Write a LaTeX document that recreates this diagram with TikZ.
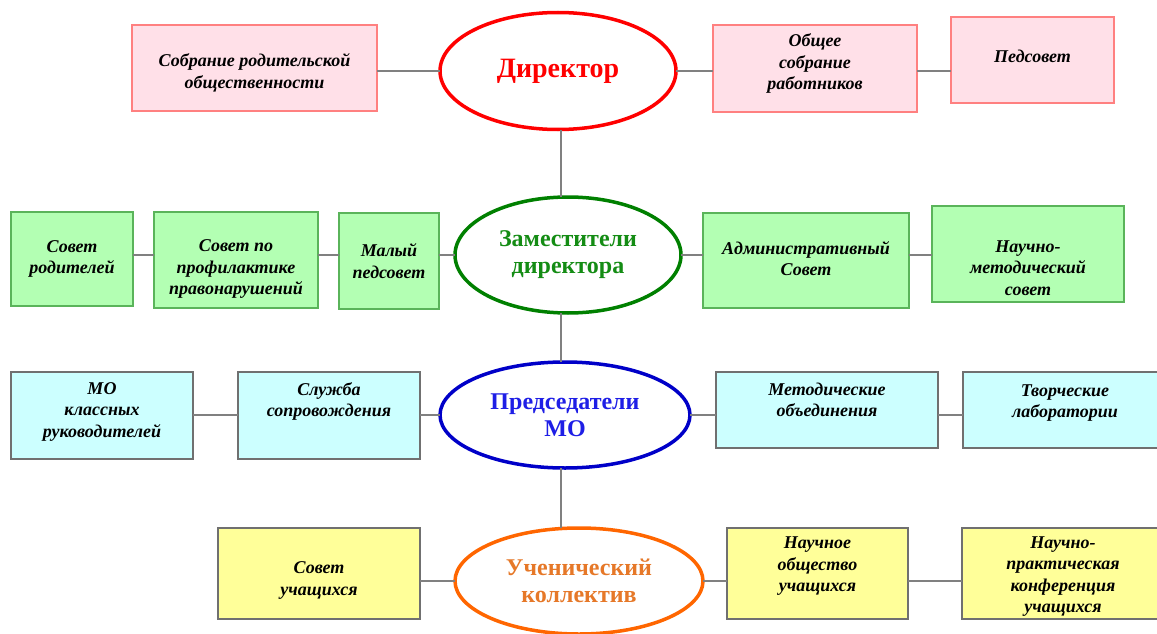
\documentclass[tikz,border=0pt]{standalone}
\usepackage{fontspec}
\setmainfont{Liberation Serif}
\usetikzlibrary{shapes.geometric}

\definecolor{pinkfill}{RGB}{255,224,232}
\definecolor{pinkline}{RGB}{255,128,128}
\definecolor{greenfill}{RGB}{179,255,179}
\definecolor{greenline}{RGB}{90,180,90}
\definecolor{cyanfill}{RGB}{204,255,255}
\definecolor{yellowfill}{RGB}{255,255,153}
\definecolor{greyline}{RGB}{112,112,112}
\definecolor{linkgrey}{RGB}{128,128,128}
\definecolor{dirred}{RGB}{255,0,0}
\definecolor{zamgreen}{RGB}{0,128,0}
\definecolor{zamtext}{RGB}{20,140,20}
\definecolor{predblue}{RGB}{0,0,200}
\definecolor{predtext}{RGB}{30,30,230}
\definecolor{uchorange}{RGB}{255,102,0}
\definecolor{uchtext}{RGB}{230,120,40}

\tikzset{
	orgbox/.style={draw, line width=1.5pt, inner sep=0pt, outer sep=0pt},
	pinkbox/.style={orgbox, draw=pinkline, fill=pinkfill},
	greenbox/.style={orgbox, draw=greenline, fill=greenfill},
	cyanbox/.style={orgbox, draw=greyline, fill=cyanfill},
	yellowbox/.style={orgbox, draw=greyline, fill=yellowfill},
	sz/.style 2 args={minimum width=#1, minimum height=#2},
	boxtext/.style={align=center, inner sep=0pt, font=\bfseries\itshape\fontsize{18}{21.5}\selectfont},
	chief/.style={ellipse, draw, fill=white, line width=3.5pt, inner sep=0pt, outer sep=0pt,
		align=center, font=\bfseries\fontsize{24}{27}\selectfont},
	link/.style={draw=linkgrey, line width=2pt}
}

\begin{document}
\begin{tikzpicture}[x=1pt, y=-1pt]
	%%%%% START %%%%%
	\useasboundingbox (0,0) rectangle (1157,634);
	
	% row 1
	\node[pinkbox, sz={245}{86}, label={[boxtext, yshift=-5]center:{Собрание родительской\\общественности}}] (sobr) at (254.5,68) {};
	\node[chief, draw=dirred, text=dirred, sz={236}{117}, font=\bfseries\fontsize{28}{30}\selectfont] (dir) at (558,71) {Директор};
	\node[pinkbox, sz={204}{87}, label={[boxtext, yshift=5]center:{Общее\\собрание\\работников}}] (obsh) at (815,68.5) {};
	\node[pinkbox, sz={163}{86}, label={[boxtext, yshift=4]center:{Педсовет}}] (ped) at (1032.5,60) {};
	
	% row 2
	\node[greenbox, sz={122}{94}, label={[boxtext]center:{Совет\\родителей}}] (sovrod) at (72,259) {};
	\node[greenbox, sz={164}{96}, label={[boxtext, yshift=-9]center:{Совет по\\профилактике\\правонарушений}}] (profil) at (236,260) {};
	\node[greenbox, sz={100}{96}, label={[boxtext]center:{Малый\\педсовет}}] (maly) at (389,261) {};
	\node[chief, draw=zamgreen, text=zamtext, sz={226}{116}] (zam) at (568,255) {Заместители\\директора};
	\node[greenbox, sz={206}{95}, label={[boxtext, yshift=2]center:{Административный\\Совет}}] (admin) at (806,260.5) {};
	\node[greenbox, sz={192}{96}, label={[boxtext, yshift=-14]center:{Научно-\\методический\\совет}}] (naumet) at (1028,254) {};
	
	% row 3
	\node[cyanbox, sz={182}{87}, label={[boxtext, yshift=4]center:{МО\\классных\\руководителей}}] (mokl) at (102,415.5) {};
	\node[cyanbox, sz={182}{87}, label={[boxtext, yshift=14]center:{Служба\\сопровождения}}] (sluzh) at (329,415.5) {};
	\node[chief, draw=predblue, text=predtext, sz={250}{106}] (pred) at (565,415) {Председатели\\МО};
	\node[cyanbox, sz={222}{76}, label={[boxtext, yshift=10]center:{Методические\\объединения}}] (metod) at (827,410) {};
	\node[cyanbox, sz={204}{76}, label={[boxtext, yshift=7]center:{Творческие\\лаборатории}}] (tvor) at (1065,410) {};
	
	% row 4
	\node[yellowbox, sz={202}{91}, label={[boxtext, yshift=-7]center:{Совет\\учащихся}}] (sovuch) at (319,573.5) {};
	\node[chief, draw=uchorange, text=uchtext, sz={248}{106}] (uch) at (579,581) {Ученический\\коллектив};
	\node[yellowbox, sz={181}{91}, label={[boxtext, yshift=7]center:{Научное\\общество\\учащихся}}] (nauch) at (817.5,573.5) {};
	\node[yellowbox, sz={202}{91}, label={[boxtext, yshift=-3]center:{Научно-\\практическая\\конференция\\учащихся}}] (npk) at (1063,573.5) {};
	
	% links
	\coordinate (spine) at (561,0);
	\draw[link] (spine |- dir.south) -- (spine |- zam.north);
	\draw[link] (spine |- zam.south) -- (spine |- pred.north);
	\draw[link] (spine |- pred.south) -- (spine |- uch.north);
	
	\draw[link] (sobr.east |- dir.center) -- (dir.west);
	\draw[link] (dir.east) -- (dir.east -| obsh.west);
	\draw[link] (obsh.east |- dir.center) -- (ped.west |- dir.center);
	
	\draw[link] (sovrod.east |- zam.center) -- (profil.west |- zam.center);
	\draw[link] (profil.east |- zam.center) -- (maly.west |- zam.center);
	\draw[link] (maly.east |- zam.center) -- (zam.west);
	\draw[link] (zam.east) -- (zam.east -| admin.west);
	\draw[link] (admin.east |- zam.center) -- (naumet.west |- zam.center);
	
	\draw[link] (mokl.east |- pred.center) -- (sluzh.west |- pred.center);
	\draw[link] (sluzh.east |- pred.center) -- (pred.west);
	\draw[link] (pred.east) -- (pred.east -| metod.west);
	\draw[link] (metod.east |- pred.center) -- (tvor.west |- pred.center);
	
	\draw[link] (sovuch.east |- uch.center) -- (uch.west);
	\draw[link] (uch.east) -- (uch.east -| nauch.west);
	\draw[link] (nauch.east |- uch.center) -- (npk.west |- uch.center);
	%%%%% END %%%%%
\end{tikzpicture}
\end{document}
